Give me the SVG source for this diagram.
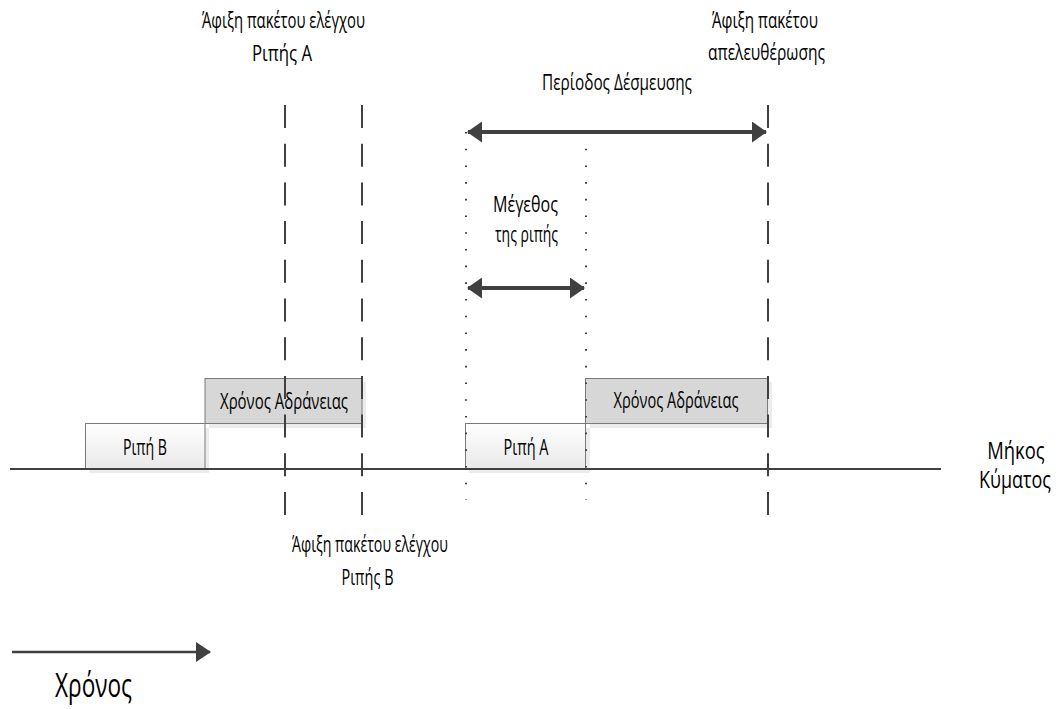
<svg xmlns="http://www.w3.org/2000/svg" width="1059" height="709" viewBox="0 0 1059 709">
  <defs>
    <linearGradient id="burstFill" x1="0" y1="0" x2="0" y2="1">
      <stop offset="0" stop-color="#ffffff"/>
      <stop offset="1" stop-color="#e8e8e8"/>
    </linearGradient>
    <marker id="head" viewBox="0 0 15 21" refX="14" refY="10.5" markerWidth="15" markerHeight="21" markerUnits="userSpaceOnUse" orient="auto-start-reverse">
      <path d="M0,0 L15,10.5 L0,21 Z" fill="#404040"/>
    </marker>
    <marker id="headSmall" viewBox="0 0 15 20" refX="14" refY="10" markerWidth="15" markerHeight="20" markerUnits="userSpaceOnUse" orient="auto">
      <path d="M0,0 L15,10 L0,20 Z" fill="#404040"/>
    </marker>
  </defs>
  <style>
    text { font-family: "Liberation Sans Narrow", "Open Sans", "DejaVu Sans", sans-serif; fill: #000000; text-anchor: middle; }
    .lbl { font-size: 21px; }
    .big { font-size: 23px; }
    .huge { font-size: 33px; }
    .burst { fill: url(#burstFill); stroke: #7a7a7a; stroke-width: 1; }
    .idle { fill: #d7d7d7; stroke: #7a7a7a; stroke-width: 1; }
    .shadow { fill: #ececec; }
    .dash { stroke: #404040; stroke-width: 2; stroke-dasharray: 23 15.7; fill: none; }
    .dot { stroke: #404040; stroke-width: 2; stroke-dasharray: 1.6 15.1; fill: none; }
    .axis { stroke: #404040; stroke-width: 2; fill: none; }
    .span { stroke: #404040; stroke-width: 4; fill: none; }
  </style>

  <rect width="1059" height="709" fill="#ffffff"/>

  <!-- burst and idle-time blocks -->
  <g id="burst-b">
    <rect class="shadow" x="89" y="428" width="120" height="45"/>
    <rect class="burst" x="85.5" y="423.5" width="119.5" height="45.5"/>
    <text class="lbl" x="145" y="455" textLength="44" lengthAdjust="spacingAndGlyphs">Ριπή B</text>
  </g>
  <g id="idle-b">
    <rect class="shadow" x="209" y="382" width="157" height="46"/>
    <rect class="idle" x="205" y="378.5" width="157" height="45"/>
    <text class="lbl" x="284" y="409" textLength="128" lengthAdjust="spacingAndGlyphs">Χρόνος Αδράνειας</text>
  </g>
  <g id="burst-a">
    <rect class="shadow" x="469" y="428" width="121" height="45"/>
    <rect class="burst" x="465.5" y="423.5" width="120" height="45.5"/>
    <text class="lbl" x="526" y="455" textLength="45" lengthAdjust="spacingAndGlyphs">Ριπή A</text>
  </g>
  <g id="idle-a">
    <rect class="shadow" x="590" y="382" width="182" height="46"/>
    <rect class="idle" x="585.5" y="378.5" width="182" height="45"/>
    <text class="lbl" x="676" y="408" textLength="125" lengthAdjust="spacingAndGlyphs">Χρόνος Αδράνειας</text>
  </g>

  <!-- time and wavelength axes, markers and spans -->
  <g id="connectors">
    <line class="axis" x1="10" y1="469" x2="941" y2="469"/>
    <line class="dash" x1="285" y1="105" x2="285" y2="516"/>
    <line class="dash" x1="362" y1="105" x2="362" y2="516"/>
    <line class="dash" x1="768" y1="105" x2="768" y2="516"/>
    <line class="dot" x1="466" y1="132" x2="466" y2="500"/>
    <line class="dot" x1="586" y1="132" x2="586" y2="500"/>
    <line class="span" x1="468" y1="132" x2="766" y2="132" marker-start="url(#head)" marker-end="url(#head)"/>
    <line class="span" x1="468" y1="288" x2="584" y2="288" marker-start="url(#head)" marker-end="url(#head)"/>
    <line stroke="#404040" stroke-width="2.4" x1="12" y1="652" x2="210" y2="652" marker-end="url(#headSmall)"/>
  </g>

  <!-- annotations -->
  <g id="labels">
    <text class="lbl" x="283.5" y="28" textLength="163" lengthAdjust="spacingAndGlyphs">Άφιξη πακέτου ελέγχου</text>
    <text class="lbl" x="282" y="61" textLength="60" lengthAdjust="spacingAndGlyphs">Ριπής Α</text>
    <text class="lbl" x="765" y="28" textLength="106" lengthAdjust="spacingAndGlyphs">Άφιξη πακέτου</text>
    <text class="lbl" x="766.5" y="60" textLength="117" lengthAdjust="spacingAndGlyphs">απελευθέρωσης</text>
    <text class="lbl" x="617" y="90" textLength="150" lengthAdjust="spacingAndGlyphs">Περίοδος Δέσμευσης</text>
    <text class="lbl" x="525.5" y="212" textLength="65" lengthAdjust="spacingAndGlyphs">Μέγεθος</text>
    <text class="lbl" x="526.5" y="242" textLength="63" lengthAdjust="spacingAndGlyphs">της ριπής</text>
    <text class="lbl" x="370" y="552" textLength="156" lengthAdjust="spacingAndGlyphs">Άφιξη πακέτου ελέγχου</text>
    <text class="lbl" x="367.5" y="585" textLength="52" lengthAdjust="spacingAndGlyphs">Ριπής Β</text>
    <text class="big" transform="translate(1016 459) scale(0.8 1)" x="0" y="0">Μήκος</text>
    <text class="big" transform="translate(1015 488) scale(0.78 1)" x="0" y="0">Κύματος</text>
    <text class="huge" x="93.5" y="697" textLength="77" lengthAdjust="spacingAndGlyphs">Χρόνος</text>
  </g>
</svg>
